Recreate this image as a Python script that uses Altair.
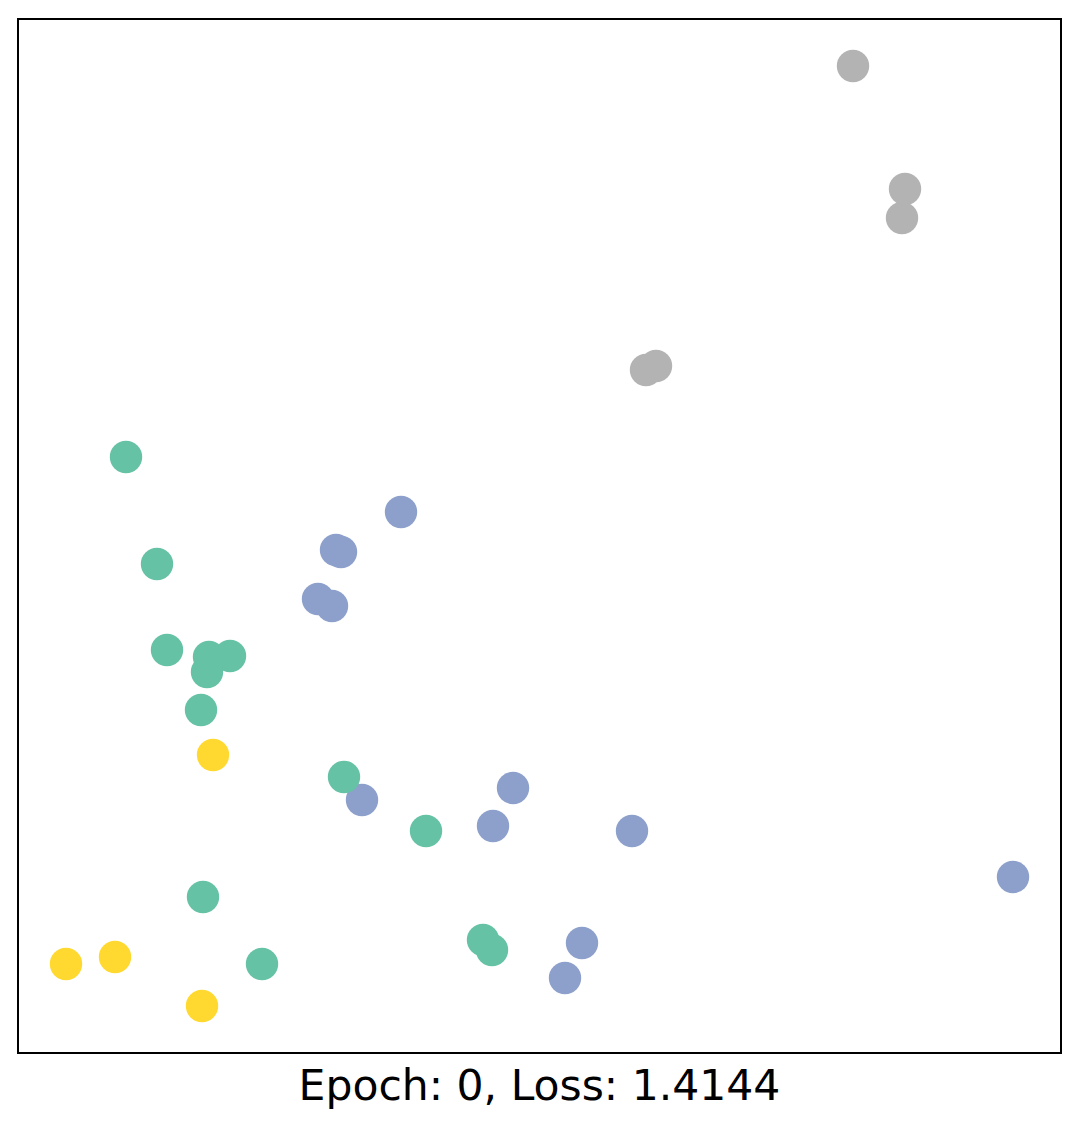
import altair as alt
import pandas as pd

# embedding coordinates
xs = [853, 905, 902, 646, 656,
      401, 336, 341, 318, 332, 362, 513, 493, 632, 1013, 582, 565,
      126, 157, 167, 209, 230, 207, 201, 344, 426, 203, 262, 483, 492,
      213, 66, 115, 202]
ys = [65, 188, 217, 369, 365,
      511, 549, 551, 598, 605, 799, 787, 825, 830, 876, 942, 977,
      456, 563, 649, 656, 655, 671, 709, 776, 830, 896, 963, 939, 949,
      754, 963, 956, 1005]
groups = ["g3"] * 5 + ["g1"] * 12 + ["g0"] * 13 + ["g2"] * 4

group_names = ["g0", "g1", "g2", "g3"]
group_colors = ["#66c2a5", "#8da0cb", "#ffd92f", "#b3b3b3"]

df = pd.DataFrame({
    "x": [v - 18 for v in xs],
    "y": [1052 - v for v in ys],
    "group": groups,
})

chart = alt.Chart(df).mark_circle(size=1050, opacity=1).encode(
    x=alt.X("x:Q", axis=None, scale=alt.Scale(domain=[0, 1043], nice=False, zero=False)),
    y=alt.Y("y:Q", axis=None, scale=alt.Scale(domain=[0, 1034], nice=False, zero=False)),
    color=alt.Color("group:N", legend=None,
                    scale=alt.Scale(domain=group_names, range=group_colors)),
).properties(
    width=1043,
    height=1034,
    padding={"left": 10, "top": 11, "right": 5, "bottom": 5},
    title=alt.TitleParams("Epoch: 0, Loss: 1.4144", orient="bottom", font="DejaVu Sans",
                          fontSize=42.5, fontWeight="normal", color="black", offset=13),
).configure_view(stroke="black", strokeWidth=2)

chart.save("out.html", embed_options={"renderer": "svg", "actions": False})
